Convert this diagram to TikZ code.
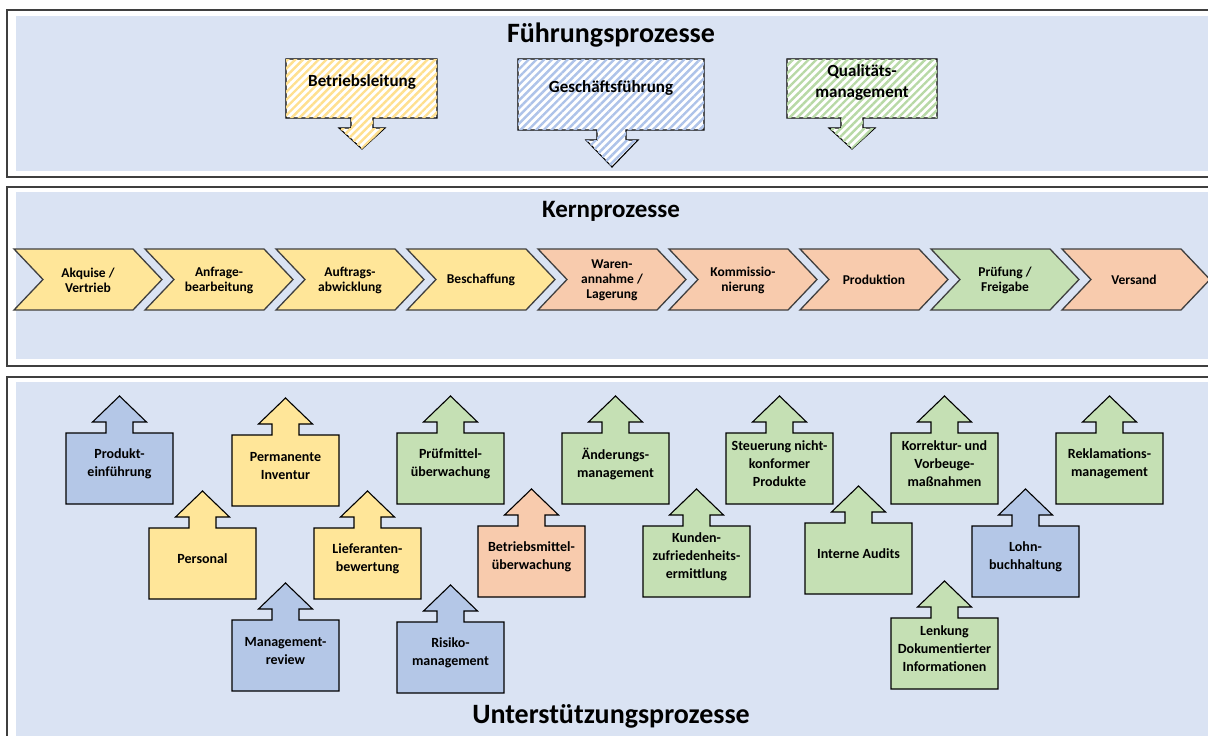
\documentclass[tikz,border=0pt]{standalone}
\usepackage{fontspec}
\setmainfont{Carlito}
\usetikzlibrary{patterns.meta}

\definecolor{panelblue}{HTML}{DAE3F3}
\definecolor{procyellow}{HTML}{FFE699}
\definecolor{procorange}{HTML}{F8CBAD}
\definecolor{procgreen}{HTML}{C5E0B4}
\definecolor{procblue}{HTML}{B4C7E7}
\definecolor{hatchyellow}{HTML}{FFE08F}
\definecolor{hatchblue}{HTML}{AEC3E9}
\definecolor{hatchgreen}{HTML}{B8D9A6}
\definecolor{framegray}{HTML}{3F3F3F}

% up arrow callout: name, colour, left, top, text
\newcommand{\upcallout}[5]{%
  \draw[callbox=#2] (#3,#4) -- ++(40,0) -- ++(0,-11) -- ++(-13.5,0) -- ++(27,-26)
    -- ++(27,26) -- ++(-13.5,0) -- ++(0,11) -- ++(40,0) -- ++(0,71) -- ++(-107,0) -- cycle;
  \path (#3,#4) ++(53.5,31) node[boxtext] (#1) {#5};}

\begin{document}
\begin{tikzpicture}[x=1pt, y=-1pt,
    frame/.style={draw=framegray, line width=1.6pt},
    hatchbox/.style={draw=black, line width=1.1pt, fill=white,
      postaction={pattern={Lines[angle=45,distance=5.5pt,line width=2.4pt]}, pattern color=#1}},
    callbox/.style={draw=black, line width=1.1pt, fill=#1},
    chevron/.style={draw=framegray, line width=1.3pt, fill=#1},
    title/.style={font=\bfseries\fontsize{28}{32}\selectfont, anchor=base},
    toptext/.style={font=\bfseries\fontsize{17}{21}\selectfont, align=center},
    chevtext/.style={font=\bfseries\fontsize{13.5}{15}\selectfont, align=center},
    boxtext/.style={font=\bfseries\fontsize{14}{18}\selectfont, align=center}]
    \useasboundingbox (0,0) rectangle (1208,736);

    % panels
    \fill[panelblue] (16,16) rectangle (1208,171);
    \fill[panelblue] (16,192) rectangle (1208,359);
    \fill[panelblue] (16,382) rectangle (1208,736);
    \draw[frame] (1208,10) -- (7,10) -- (7,177) -- (1208,177);
    \draw[frame] (1208,187) -- (7,187) -- (7,366) -- (1208,366);
    \draw[frame] (1208,377) -- (7,377) -- (7,736);

    % Fuehrungsprozesse
    \node[title] (fuehrung) at (611,42) {Führungsprozesse};
    \draw[hatchbox=hatchyellow] (286,59) -- (437,59) -- (437,118) -- (373,118) -- (373,128) -- (385,128)
      -- (362,149) -- (339,128) -- (351,128) -- (351,118) -- (286,118) -- cycle;
    \draw[hatchbox=hatchblue] (518,59) -- (704,59) -- (704,130) -- (626,130) -- (626,140) -- (638,140)
      -- (612,167) -- (586,140) -- (597,140) -- (597,130) -- (518,130) -- cycle;
    \draw[hatchbox=hatchgreen] (787,59) -- (937,59) -- (937,118) -- (863,118) -- (863,128) -- (875,128)
      -- (852,149) -- (829,128) -- (841,128) -- (841,118) -- (787,118) -- cycle;
    \node[toptext] (betrieb) at (362,82) {Betriebsleitung};
    \node[toptext] (gf) at (611,88) {Geschäftsführung};
    \node[toptext] (qm) at (862,82) {Qualitäts-\\management};

    % Kernprozesse
    \node[title, font=\bfseries\fontsize{25}{30}\selectfont] (kern) at (611,217) {Kernprozesse};
    \draw[chevron=procyellow] (14,249) -- ++(119,0) -- ++(29,30.5) -- ++(-29,30.5) -- ++(-119,0) -- ++(29,-30.5) -- cycle;
    \draw[chevron=procyellow] (145,249) -- ++(119,0) -- ++(29,30.5) -- ++(-29,30.5) -- ++(-119,0) -- ++(29,-30.5) -- cycle;
    \draw[chevron=procyellow] (276,249) -- ++(119,0) -- ++(29,30.5) -- ++(-29,30.5) -- ++(-119,0) -- ++(29,-30.5) -- cycle;
    \draw[chevron=procyellow] (407,249) -- ++(119,0) -- ++(29,30.5) -- ++(-29,30.5) -- ++(-119,0) -- ++(29,-30.5) -- cycle;
    \draw[chevron=procorange] (538,249) -- ++(119,0) -- ++(29,30.5) -- ++(-29,30.5) -- ++(-119,0) -- ++(29,-30.5) -- cycle;
    \draw[chevron=procorange] (669,249) -- ++(119,0) -- ++(29,30.5) -- ++(-29,30.5) -- ++(-119,0) -- ++(29,-30.5) -- cycle;
    \draw[chevron=procorange] (800,249) -- ++(119,0) -- ++(29,30.5) -- ++(-29,30.5) -- ++(-119,0) -- ++(29,-30.5) -- cycle;
    \draw[chevron=procgreen] (931,249) -- ++(119,0) -- ++(29,30.5) -- ++(-29,30.5) -- ++(-119,0) -- ++(29,-30.5) -- cycle;
    \draw[chevron=procorange] (1062,249) -- ++(119,0) -- ++(29,30.5) -- ++(-29,30.5) -- ++(-119,0) -- ++(29,-30.5) -- cycle;
    \node[chevtext] (akquise) at (88,280) {Akquise /\\Vertrieb};
    \node[chevtext] (anfrage) at (219,280) {Anfrage-\\bearbeitung};
    \node[chevtext] (auftrag) at (350,280) {Auftrags-\\abwicklung};
    \node[chevtext] (beschaffung) at (481,280) {Beschaffung};
    \node[chevtext] (waren) at (612,280) {Waren-\\annahme /\\Lagerung};
    \node[chevtext] (kommission) at (743,280) {Kommissio-\\nierung};
    \node[chevtext] (produktion) at (874,280) {Produktion};
    \node[chevtext] (pruefung) at (1005,280) {Prüfung /\\Freigabe};
    \node[chevtext] (versand) at (1134,280) {Versand};

    % Unterstuetzungsprozesse
    \upcallout{produkt}{procblue}{66}{433}{Produkt-\\einführung}
    \upcallout{inventur}{procyellow}{232}{435}{Permanente\\Inventur}
    \upcallout{personal}{procyellow}{149}{528}{Personal}
    \upcallout{lieferant}{procyellow}{314}{528}{Lieferanten-\\bewertung}
    \upcallout{review}{procblue}{232}{620}{Management-\\review}
    \upcallout{pruefmittel}{procgreen}{397}{433}{Prüfmittel-\\überwachung}
    \upcallout{aenderung}{procgreen}{562}{433}{Änderungs-\\management}
    \upcallout{steuerung}{procgreen}{726}{433}{Steuerung nicht-\\konformer\\Produkte}
    \upcallout{betriebsmittel}{procorange}{478}{526}{Betriebsmittel-\\überwachung}
    \upcallout{kunden}{procgreen}{643}{526}{Kunden-\\zufriedenheits-\\ermittlung}
    \upcallout{risiko}{procblue}{397}{622}{Risiko-\\management}
    \upcallout{audits}{procgreen}{805}{523}{Interne Audits}
    \upcallout{korrektur}{procgreen}{891}{433}{Korrektur- und\\Vorbeuge-\\maßnahmen}
    \upcallout{reklamation}{procgreen}{1056}{433}{Reklamations-\\management}
    \upcallout{lohn}{procblue}{972}{526}{Lohn-\\buchhaltung}
    \upcallout{lenkung}{procgreen}{891}{618}{Lenkung\\Dokumentierter\\Informationen}
    \node[title] (unterstuetzung) at (611,723) {Unterstützungsprozesse};
\end{tikzpicture}
\end{document}
